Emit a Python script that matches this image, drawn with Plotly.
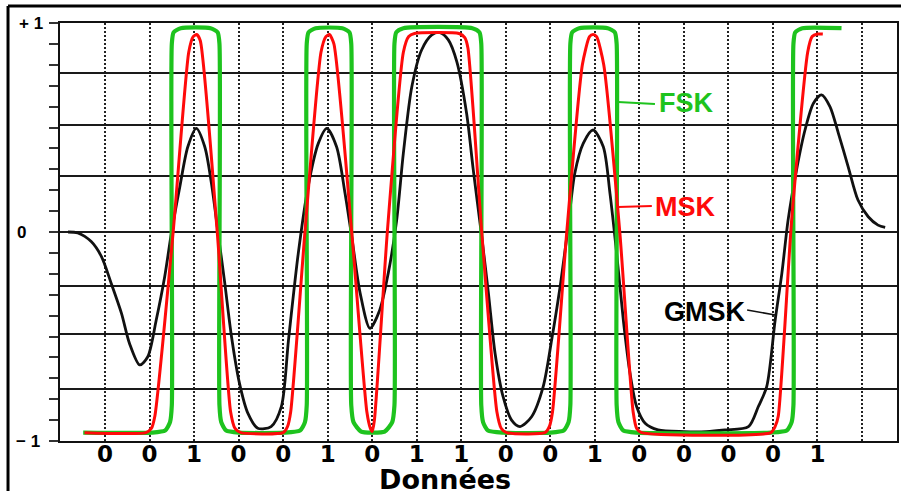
import plotly.graph_objects as go

# ---- data ----
bits = ["0", "0", "1", "0", "0", "1", "0", "1", "1", "0", "0", "1", "0", "0", "0", "0", "1"]
bit_positions = list(range(1, 19))          # dotted grid / bit centres (18 lines, 17 labels)

grid_levels = [0.76, 0.51, 0.27, 0.0, -0.26, -0.49, -0.75]

gmsk_x = [0.17, 0.39, 0.69, 0.92, 1.14, 1.37, 1.55, 1.78, 1.96, 2.15, 2.34, 2.49, 2.68, 2.86, 3.05,
          3.24, 3.39, 3.54, 3.69, 3.84, 4.02, 4.21, 4.43, 4.73, 4.96, 5.12, 5.34, 5.56, 5.79, 5.98,
          6.20, 6.39, 6.54, 6.73, 6.95, 7.17, 7.36, 7.55, 7.70, 7.89, 8.11, 8.34, 8.52, 8.71, 8.90,
          9.12, 9.27, 9.46, 9.61, 9.76, 9.94, 10.13, 10.32, 10.58, 10.84, 11.03, 11.22, 11.40, 11.55,
          11.74, 11.96, 12.19, 12.34, 12.49, 12.64, 12.79, 12.94, 13.13, 13.42, 14.0, 14.5, 14.92,
          15.45, 15.67, 15.86, 16.05, 16.20, 16.34, 16.53, 16.72, 16.91, 17.09, 17.28, 17.47, 17.69,
          17.91, 18.14, 18.36, 18.52]
gmsk_y = [0.0, -0.005, -0.046, -0.118, -0.246, -0.389, -0.533, -0.636, -0.597, -0.421, -0.214, -0.006,
          0.217, 0.408, 0.496, 0.408, 0.233, -0.006, -0.246, -0.5, -0.724, -0.868, -0.939, -0.931,
          -0.836, -0.517, -0.102, 0.217, 0.424, 0.496, 0.408, 0.185, -0.022, -0.293, -0.461, -0.373,
          -0.198, 0.057, 0.377, 0.695, 0.871, 0.943, 0.954, 0.919, 0.815, 0.568, 0.297, -0.022, -0.293,
          -0.581, -0.788, -0.9, -0.931, -0.884, -0.74, -0.517, -0.262, 0.025, 0.281, 0.424, 0.488,
          0.408, 0.185, -0.102, -0.421, -0.676, -0.836, -0.915, -0.947, -0.955, -0.955, -0.947, -0.931,
          -0.836, -0.74, -0.421, -0.198, 0.057, 0.297, 0.488, 0.616, 0.656, 0.6, 0.472, 0.312, 0.153,
          0.073, 0.033, 0.022]

msk_x = [0.54, 1.92, 2.04, 2.12, 2.53, 2.88, 2.98, 3.06, 3.14, 3.52, 3.82, 3.92, 4.05, 5.00, 5.10,
         5.17, 5.49, 5.85, 5.96, 6.04, 6.14, 6.54, 6.88, 6.96, 7.00, 7.05, 7.34, 7.70, 7.82, 7.95,
         8.95, 9.08, 9.15, 9.46, 9.80, 9.90, 10.02, 10.88, 10.98, 11.05, 11.37, 11.72, 11.88, 11.96,
         12.04, 12.20, 12.56, 12.86, 12.94, 13.05, 15.95, 16.05, 16.12, 16.42, 16.78, 16.88, 17.0, 17.12]
msk_y = [-0.96, -0.96, -0.94, -0.88, 0.0, 0.86, 0.935, 0.945, 0.915, 0.0, -0.86, -0.94, -0.96, -0.96,
         -0.93, -0.86, 0.0, 0.86, 0.935, 0.945, 0.90, 0.0, -0.86, -0.94, -0.955, -0.90, 0.0, 0.86,
         0.935, 0.95, 0.95, 0.93, 0.88, 0.0, -0.86, -0.94, -0.96, -0.96, -0.93, -0.86, 0.0, 0.80,
         0.935, 0.945, 0.935, 0.80, 0.0, -0.86, -0.94, -0.96, -0.96, -0.93, -0.88, 0.057, 0.86, 0.935,
         0.947, 0.947]

fsk_x = [0.51, 2.05, 2.35, 2.46, 2.50, 2.50, 2.54, 2.70, 3.37, 3.53, 3.57, 3.57, 3.61, 3.72, 4.02,
         5.01, 5.38, 5.49, 5.53, 5.53, 5.57, 5.73, 6.33, 6.49, 6.53, 6.53, 6.58, 6.75, 7.00, 7.28,
         7.45, 7.50, 7.50, 7.54, 7.70, 9.25, 9.41, 9.45, 9.45, 9.49, 9.60, 9.95, 11.0, 11.30, 11.41,
         11.45, 11.45, 11.49, 11.65, 12.29, 12.45, 12.49, 12.49, 12.53, 12.64, 12.95, 15.95, 16.31,
         16.42, 16.46, 16.46, 16.50, 16.66, 17.54]
fsk_y = [-0.96, -0.96, -0.95, -0.91, -0.83, 0.90, 0.955, 0.975, 0.975, 0.955, 0.90, -0.83, -0.91,
         -0.95, -0.96, -0.96, -0.95, -0.91, -0.83, 0.90, 0.955, 0.975, 0.975, 0.955, 0.90, -0.83,
         -0.91, -0.955, -0.96, -0.955, -0.91, -0.83, 0.90, 0.955, 0.975, 0.975, 0.955, 0.90, -0.83,
         -0.91, -0.95, -0.96, -0.96, -0.95, -0.91, -0.83, 0.90, 0.955, 0.975, 0.975, 0.955, 0.90,
         -0.83, -0.91, -0.95, -0.96, -0.96, -0.95, -0.91, -0.83, 0.90, 0.955, 0.975, 0.975]

y_tick_vals = [1, 0, -1]
y_tick_text = ["+ 1", "0", "\u2212 1"]

GREEN = "#1ec31e"
RED = "#ff0a0a"
BLACK = "#111111"

fig = go.Figure()
fig.add_trace(go.Scatter(x=gmsk_x, y=gmsk_y, mode="lines",
                         line=dict(color=BLACK, width=2.8, shape="spline", smoothing=0.8),
                         name="GMSK"))
fig.add_trace(go.Scatter(x=fsk_x, y=fsk_y, mode="lines",
                         line=dict(color=GREEN, width=4.2, shape="spline", smoothing=0.6),
                         name="FSK"))
fig.add_trace(go.Scatter(x=msk_x, y=msk_y, mode="lines",
                         line=dict(color=RED, width=3, shape="spline", smoothing=0.6),
                         name="MSK"))

fig.update_layout(
    template="none",
    width=901, height=491,
    margin=dict(l=60, r=4, t=23, b=50, autoexpand=False),
    plot_bgcolor="white", paper_bgcolor="white",
    showlegend=False,
    xaxis=dict(
        automargin=False,
        range=[-0.011, 18.786],
        tickmode="array", tickvals=bit_positions, ticktext=bits + [""],
        tickfont=dict(family="DejaVu Sans", size=23, color="black", weight="bold"),
        ticks="", ticklabelstandoff=-9,
        showgrid=True, gridcolor="#222222", gridwidth=2.4, griddash="2px,2px",
        zeroline=False,
        showline=True, mirror=True, linecolor=BLACK, linewidth=2,
    ),
    yaxis=dict(
        automargin=False,
        range=[-1, 1],
        tickmode="array", tickvals=grid_levels, showticklabels=False, ticks="",
        showgrid=True, gridcolor="#1a1a1a", gridwidth=2,
        zeroline=False,
        showline=True, mirror=True, linecolor=BLACK, linewidth=2,
        minor=dict(tickmode="linear", tick0=0, dtick=0.1, ticks="outside",
                   ticklen=9, tickwidth=1.5, tickcolor="#333333", showgrid=False),
    ),
)

# y-axis value labels
lbl_font = dict(family="Liberation Sans", size=17, color="black", weight="bold")
fig.add_annotation(x=-0.018, xref="paper", y=y_tick_vals[0], yref="y", text=y_tick_text[0],
                   showarrow=False, xanchor="right", yanchor="middle", font=lbl_font)
fig.add_annotation(x=-0.046, xref="paper", y=y_tick_vals[1], yref="y", text=y_tick_text[1],
                   showarrow=False, xanchor="center", yanchor="middle", font=lbl_font)
fig.add_annotation(x=-0.022, xref="paper", y=y_tick_vals[2], yref="y", text=y_tick_text[2],
                   showarrow=False, xanchor="right", yanchor="middle", font=lbl_font)

# axis title
fig.add_annotation(x=8.63, xref="x", y=-0.092, yref="paper", text="Données", showarrow=False,
                   xanchor="center", yanchor="middle",
                   font=dict(family="DejaVu Sans", size=27, color="black", weight="bold"))

# series labels with leader lines
lab_font = dict(family="Liberation Sans", size=27, weight="bold")
fig.add_annotation(x=13.39, y=0.617, text="FSK", showarrow=False, xanchor="left", yanchor="middle",
                   font=dict(lab_font, color=GREEN))
fig.add_annotation(x=13.31, y=0.12, text="MSK", showarrow=False, xanchor="left", yanchor="middle",
                   font=dict(lab_font, color=RED))
fig.add_annotation(x=13.51, y=-0.383, text="GMSK", showarrow=False, xanchor="left", yanchor="middle",
                   font=dict(lab_font, color="black"))
fig.add_shape(type="line", x0=12.52, y0=0.622, x1=13.35, y1=0.612, line=dict(color=GREEN, width=2))
fig.add_shape(type="line", x0=12.52, y0=0.12, x1=13.28, y1=0.124, line=dict(color=RED, width=2))
fig.add_shape(type="line", x0=15.42, y0=-0.373, x1=16.05, y1=-0.397, line=dict(color=BLACK, width=1.5))

# outer frame (top and left)
fig.add_shape(type="line", xref="paper", yref="paper", x0=-0.0621, y0=1.0407, x1=1.01, y1=1.0407,
              line=dict(color="black", width=3))
fig.add_shape(type="line", xref="paper", yref="paper", x0=-0.0621, y0=1.0407, x1=-0.0621, y1=-0.13,
              line=dict(color="black", width=3))

fig.write_html("out.html",
               config={"displayModeBar": False},
               post_script="document.body.style.margin='0px';document.body.style.overflow='hidden';")
